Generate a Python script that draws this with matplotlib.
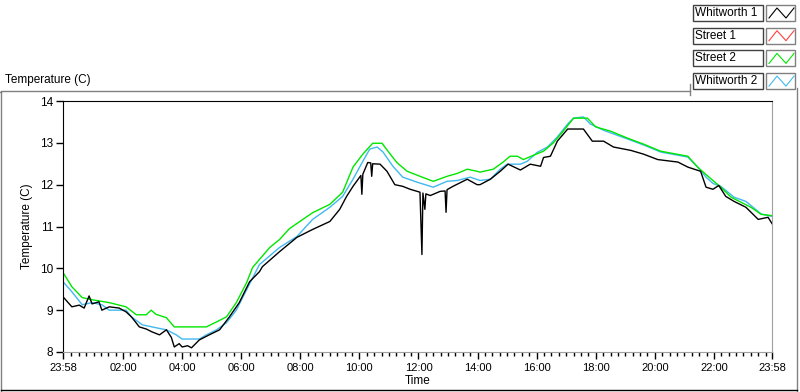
import matplotlib
matplotlib.use("Agg")
import matplotlib.pyplot as plt
from matplotlib.lines import Line2D
from matplotlib.patches import Rectangle
from matplotlib.ticker import FixedLocator

plt.rcParams['font.family'] = ['Liberation Sans', 'DejaVu Sans']

# minutes after 23:58 (start of record) and temperature (C)
w1_min = [0, 18, 33, 43, 53, 59, 73, 79, 94, 114, 128, 139, 155, 169, 181, 196, 210, 220, 226, 236,
          242, 253, 261, 277, 297, 318, 338, 358, 379, 399, 405, 440, 475, 507, 542, 562, 576, 589,
          605, 607, 609, 619, 625, 627, 629, 644, 658, 674, 690, 705, 725, 729, 731, 735, 737, 746,
          766, 776, 778, 780, 792, 821, 841, 847, 868, 888, 904, 929, 949, 970, 976, 990, 1004, 1025,
          1057, 1075, 1098, 1118, 1153, 1179, 1208, 1249, 1269, 1295, 1306, 1320, 1332, 1346, 1363,
          1387, 1412, 1432, 1440]
w1_temp = [9.32, 9.08, 9.12, 9.05, 9.34, 9.15, 9.2, 9.0, 9.08, 9.05, 8.96, 8.84, 8.6, 8.55, 8.48, 8.41,
           8.53, 8.35, 8.12, 8.2, 8.12, 8.15, 8.1, 8.29, 8.41, 8.53, 8.84, 9.18, 9.68, 9.92, 10.04,
           10.4, 10.74, 10.93, 11.12, 11.41, 11.72, 11.96, 12.22, 11.77, 12.25, 12.53, 12.52, 12.2,
           12.5, 12.49, 12.32, 12.0, 11.96, 11.89, 11.82, 10.33, 11.8, 11.41, 11.78, 11.74, 11.84,
           11.85, 11.34, 11.88, 11.96, 12.13, 12.0, 12.0, 12.13, 12.32, 12.49, 12.35, 12.49, 12.44,
           12.65, 12.68, 13.04, 13.33, 13.33, 13.04, 13.04, 12.9, 12.82, 12.73, 12.6, 12.54, 12.42,
           12.32, 11.94, 11.89, 11.98, 11.72, 11.6, 11.46, 11.17, 11.22, 11.07]

s2_min = [0, 18, 39, 59, 94, 128, 149, 169, 179, 189, 210, 226, 291, 312, 332, 352, 373, 385, 420,
          440, 460, 507, 542, 568, 589, 609, 629, 648, 660, 678, 699, 725, 752, 780, 801, 821, 841,
          847, 874, 894, 908, 923, 935, 955, 976, 996, 1016, 1037, 1065, 1082, 1112, 1147, 1179,
          1214, 1269, 1289, 1310, 1336, 1357, 1377, 1397, 1418, 1440]
s2_temp = [9.9, 9.56, 9.3, 9.25, 9.18, 9.08, 8.89, 8.89, 9.0, 8.9, 8.82, 8.6, 8.6, 8.72, 8.84, 9.18,
           9.66, 10.02, 10.5, 10.69, 10.95, 11.33, 11.53, 11.82, 12.42, 12.73, 12.99, 12.99, 12.8,
           12.53, 12.32, 12.2, 12.08, 12.2, 12.27, 12.37, 12.32, 12.3, 12.37, 12.54, 12.68, 12.68,
           12.6, 12.7, 12.8, 13.0, 13.28, 13.59, 13.59, 13.38, 13.28, 13.11, 12.97, 12.8, 12.68,
           12.42, 12.2, 11.94, 11.7, 11.58, 11.46, 11.29, 11.26]

w2_min = [0, 18, 39, 59, 79, 94, 128, 139, 161, 189, 210, 230, 242, 277, 291, 312, 332, 352, 373,
          399, 440, 475, 507, 542, 568, 589, 609, 623, 638, 650, 670, 690, 719, 752, 780, 801, 827,
          847, 868, 888, 902, 929, 943, 963, 984, 1004, 1025, 1037, 1057, 1071, 1098, 1147, 1179,
          1214, 1269, 1289, 1306, 1320, 1336, 1363, 1387, 1418, 1440]
w2_temp = [9.68, 9.44, 9.13, 9.18, 9.13, 9.0, 9.0, 8.84, 8.65, 8.58, 8.53, 8.41, 8.31, 8.31, 8.41,
           8.53, 8.7, 9.0, 9.49, 10.09, 10.5, 10.76, 11.17, 11.46, 11.72, 12.13, 12.56, 12.85, 12.9,
           12.78, 12.44, 12.18, 12.06, 11.94, 12.08, 12.1, 12.18, 12.1, 12.13, 12.37, 12.49, 12.49,
           12.56, 12.77, 12.9, 13.14, 13.45, 13.59, 13.62, 13.45, 13.3, 13.09, 12.95, 12.78, 12.66,
           12.42, 12.18, 12.03, 11.96, 11.7, 11.6, 11.3, 11.24]

series_names = ['Whitworth 1', 'Street 1', 'Street 2', 'Whitworth 2']
series_colors = ['#000000', '#ff4040', '#00e600', '#40b8f0']

tick_min = [0, 122, 242, 362, 482, 602, 722, 842, 962, 1082, 1202, 1322, 1440]
tick_labels = ['23:58', '02:00', '04:00', '06:00', '08:00', '10:00', '12:00',
               '14:00', '16:00', '18:00', '20:00', '22:00', '23:58']

W, H = 800, 392
fig = plt.figure(figsize=(W / 100, H / 100), dpi=100)


def fx(x):
    return x / W


def fy(y):
    return 1 - y / H


ax = fig.add_axes([fx(63), fy(352), fx(772) - fx(63), fy(101) - fy(352)])
ax.plot(w2_min, w2_temp, color=series_colors[3], lw=1.0)
ax.plot(s2_min, s2_temp, color=series_colors[2], lw=1.0)
ax.plot(w1_min, w1_temp, color=series_colors[0], lw=1.0)

ax.set_xlim(0, 1440)
ax.set_ylim(8, 14)
ax.set_xticks(tick_min)
ax.set_xticklabels(tick_labels)
minors = [m for m in range(2, 1440, 15) if min(abs(m - t) for t in tick_min) > 5]
ax.xaxis.set_minor_locator(FixedLocator(minors))
ax.set_yticks(range(8, 15))
ax.tick_params(axis='x', which='major', length=5, width=1, pad=3, labelsize=8)
ax.tick_params(axis='x', which='minor', length=3, width=1)
ax.tick_params(axis='y', length=5, width=1, pad=2, labelsize=8.5)

for side in ['left', 'top']:
    ax.spines[side].set_color('black')
for side in ['right', 'bottom']:
    ax.spines[side].set_color('#a0a0a0')
ax.set_xlabel('Time', fontsize=8.5, labelpad=1)
ax.set_ylabel('Temperature (C)', fontsize=8.5, labelpad=5)

# surrounding frame
frame = [((0, 1), (92, 92), '#808080'), ((1, 1), (92, 392), '#808080'),
         ((1, 690), (91, 91), '#808080'), ((690, 690), (84, 95), '#808080'),
         ((797, 797), (88, 392), '#808080'), ((1, 797), (390, 390), '#000000')]
for xs, ys, c in frame:
    fig.add_artist(Line2D([fx(v) for v in xs], [fy(v) for v in ys], color=c, lw=1,
                          transform=fig.transFigure))

fig.text(fx(5), fy(80), 'Temperature (C)', fontsize=8.5, ha='left', va='center')

# legend boxes, LabVIEW style
for i, (name, col) in enumerate(zip(series_names, series_colors)):
    top = 5 + i * 22.7
    fig.add_artist(Rectangle((fx(693), fy(top + 16)), fx(763) - fx(693), fy(top) - fy(top + 16),
                             fill=False, ec='#404040', lw=1, transform=fig.transFigure))
    fig.add_artist(Rectangle((fx(766), fy(top + 16)), fx(795) - fx(766), fy(top) - fy(top + 16),
                             fill=False, ec='#808080', lw=1, transform=fig.transFigure))
    fig.text(fx(695), fy(top + 8), name, fontsize=8.5, ha='left', va='center')
    zx = [769, 777, 786, 794]
    zy = [top + 13, top + 3, top + 13, top + 3]
    fig.add_artist(Line2D([fx(v) for v in zx], [fy(v) for v in zy], color=col, lw=0.8,
                          transform=fig.transFigure))

fig.savefig('out.png', dpi=100)
